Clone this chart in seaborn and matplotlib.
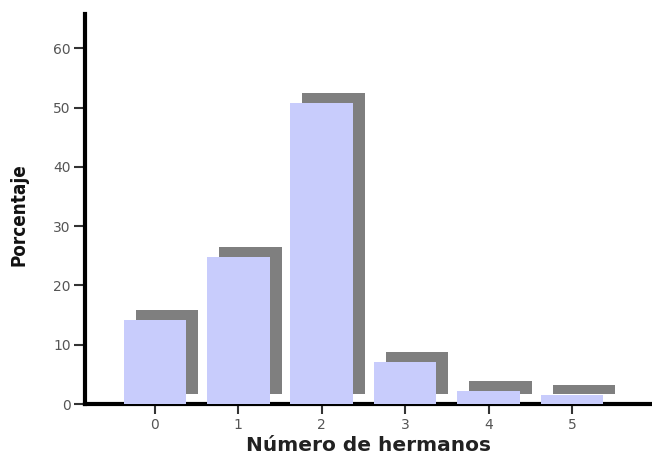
import matplotlib
matplotlib.use("Agg")
import matplotlib.pyplot as plt
import matplotlib.transforms as mtrans
import seaborn as sns
import pandas as pd

categories = ["0", "1", "2", "3", "4", "5"]
percent = [14.2, 24.8, 50.8, 7.1, 2.2, 1.5]
yticks = [0, 10, 20, 30, 40, 50, 60]

sns.set_theme(style="ticks")
plt.rcParams['font.family'] = ['DejaVu Sans']

df = pd.DataFrame({"hermanos": categories, "pct": percent})

fig = plt.figure(figsize=(6.52, 4.59), dpi=100)
ax = fig.add_axes([0.130, 0.1198, 0.870, 0.8497])

# shadow bars
sns.barplot(data=df, x="hermanos", y="pct", order=categories, color="#7f7f7f",
            saturation=1, width=0.75, ax=ax)
n_shadow = len(ax.patches)
offset = mtrans.ScaledTranslation(0.12, 0.10, fig.dpi_scale_trans)
for p in ax.patches[:n_shadow]:
    p.set_transform(ax.transData + offset)
    p.set_zorder(2)
    p.set_linewidth(0)

# main bars
sns.barplot(data=df, x="hermanos", y="pct", order=categories, color="#c8ccfc",
            saturation=1, width=0.75, ax=ax)
for p in ax.patches[n_shadow:]:
    p.set_zorder(3)
    p.set_linewidth(0)

ax.set_xlim(-0.84, 5.96)
ax.set_ylim(0, 65.8)
ax.set_yticks(yticks)
ax.set_yticklabels([str(v) for v in yticks])

for side in ["top", "right"]:
    ax.spines[side].set_visible(False)
for side in ["left", "bottom"]:
    ax.spines[side].set_linewidth(3)
    ax.spines[side].set_color("black")
    ax.spines[side].set_zorder(2.5)

ax.tick_params(axis="y", length=8, width=1.5, color="#333333", labelsize=10,
               labelcolor="#555555", pad=2)
ax.tick_params(axis="x", length=7, width=1.5, color="#333333", labelsize=10,
               labelcolor="#555555", pad=3)

ax.set_xlabel("Número de hermanos", fontsize=14.5, fontweight="bold", color="#222222",
              labelpad=3)
ax.set_ylabel("Porcentaje", fontsize=13.5, fontweight="bold", color="#111111",
              fontstretch="condensed")
ax.yaxis.set_label_coords(-0.10, 0.485)

fig.savefig("out.png", dpi=100)
